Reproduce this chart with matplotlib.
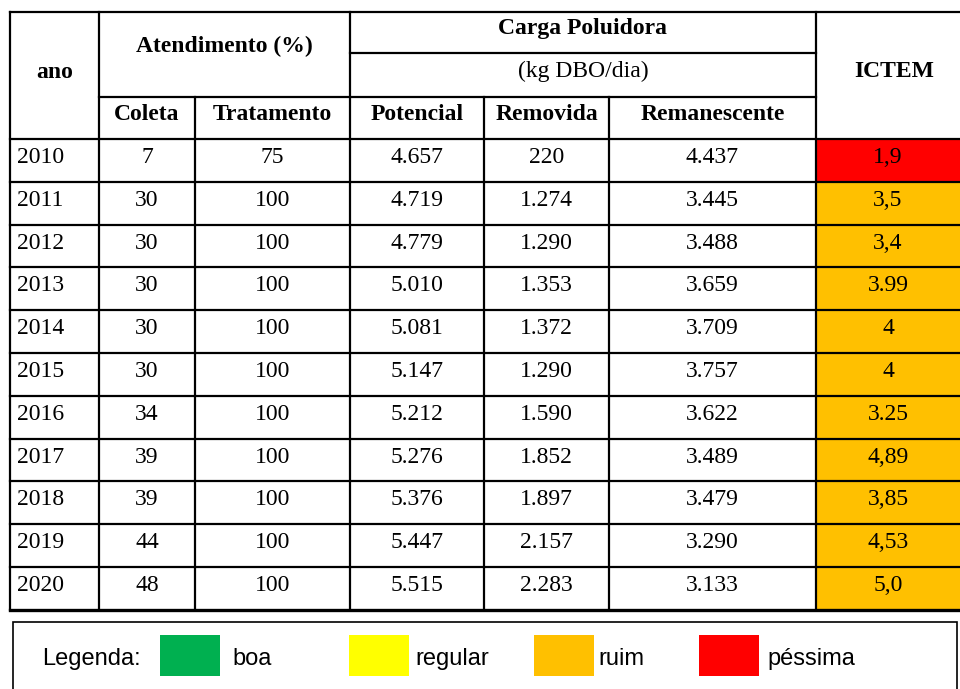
import matplotlib.pyplot as plt
from matplotlib.patches import Rectangle

# table data
anos = ["2010", "2011", "2012", "2013", "2014", "2015", "2016", "2017", "2018", "2019", "2020"]
coleta = ["7", "30", "30", "30", "30", "30", "34", "39", "39", "44", "48"]
tratamento = ["75", "100", "100", "100", "100", "100", "100", "100", "100", "100", "100"]
potencial = ["4.657", "4.719", "4.779", "5.010", "5.081", "5.147", "5.212", "5.276", "5.376", "5.447", "5.515"]
removida = ["220", "1.274", "1.290", "1.353", "1.372", "1.290", "1.590", "1.852", "1.897", "2.157", "2.283"]
remanescente = ["4.437", "3.445", "3.488", "3.659", "3.709", "3.757", "3.622", "3.489", "3.479", "3.290", "3.133"]
ictem = ["1,9", "3,5", "3,4", "3.99", "4", "4", "3.25", "4,89", "3,85", "4,53", "5,0"]
classe = ["péssima"] + ["ruim"] * 10

legend_labels = ["boa", "regular", "ruim", "péssima"]
legend_colors = ["#00B050", "#FFFF00", "#FFC000", "#FF0000"]
cores = dict(zip(legend_labels, legend_colors))

fig = plt.figure(figsize=(9.6, 6.89), dpi=100)
ax = fig.add_axes([0, 0, 1, 1])
ax.set_xlim(0, 960)
ax.set_ylim(689, 0)
ax.axis("off")

serif = "Liberation Serif"
sans = "Liberation Sans"
fs = 17
lw = 1.6

# column edges and row edges (pixels)
xs = [10, 99, 195, 350, 484, 609, 816, 960]
y_top, y_h1, y_h2, y_h3 = 12, 53, 97, 139
rh = 42.8
y_rows = [y_h3 + i * rh for i in range(len(anos) + 1)]

# ICTEM coloured cells
for i, c in enumerate(classe):
    ax.add_patch(Rectangle((xs[6], y_rows[i]), xs[7] - xs[6], rh,
                           facecolor=cores[c], edgecolor="none", zorder=1))

def hline(y, x0, x1, w=lw):
    ax.plot([x0, x1], [y, y], color="black", lw=w, solid_capstyle="projecting", zorder=3)

def vline(x, y0, y1, w=lw):
    ax.plot([x, x], [y0, y1], color="black", lw=w, solid_capstyle="projecting", zorder=3)

# header grid
hline(y_top, xs[0], xs[7])
hline(y_h1, xs[3], xs[6])
hline(y_h2, xs[1], xs[6])
for y in y_rows[:-1]:
    hline(y, xs[0], xs[7])
hline(y_rows[-1], xs[0], xs[7], w=2.4)
vline(xs[0], y_top, y_rows[-1])
vline(xs[1], y_top, y_rows[-1])
vline(xs[2], y_h2, y_rows[-1])
vline(xs[3], y_top, y_rows[-1])
vline(xs[4], y_h2, y_rows[-1])
vline(xs[5], y_h2, y_rows[-1])
vline(xs[6], y_top, y_rows[-1])

def cx(i, j=None):
    j = i if j is None else j
    return (xs[i] + xs[j + 1]) / 2

bold = dict(family=serif, fontsize=fs, fontweight="bold", ha="center", va="baseline")
ax.text(cx(0), 78, "ano", **bold)
ax.text(cx(1, 2), 52, "Atendimento (%)", **bold)
ax.text(cx(3, 5), 34, "Carga Poluidora", **bold)
ax.text(cx(3, 5), 77, "(kg DBO/dia)", family=serif, fontsize=fs, ha="center", va="baseline")
ax.text(cx(6) + 6, 77, "ICTEM", **bold)
for k, h in enumerate(["Coleta", "Tratamento", "Potencial", "Removida", "Remanescente"]):
    ax.text(cx(k + 1), 120, h, **bold)

cols = [coleta, tratamento, potencial, removida, remanescente, ictem]
for i in range(len(anos)):
    yb = y_rows[i] + 24
    ax.text(xs[0] + 7, yb, anos[i], family=serif, fontsize=fs, ha="left", va="baseline", zorder=4)
    for k, col in enumerate(cols):
        ax.text(cx(k + 1), yb, col[i], family=serif, fontsize=fs, ha="center", va="baseline", zorder=4)

# legend box
ax.add_patch(Rectangle((13, 622), 944, 80, facecolor="white", edgecolor="black", lw=1.2, zorder=2))
ax.text(42, 665, "Legenda:", family=sans, fontsize=fs, ha="left", va="baseline", zorder=4)
sw_x = [160, 349, 534, 699]
lab_x = [232, 415, 598, 767]
for sx, lx, lab, col in zip(sw_x, lab_x, legend_labels, legend_colors):
    ax.add_patch(Rectangle((sx, 635), 60, 41, facecolor=col, edgecolor="none", zorder=3))
    ax.text(lx, 665, lab, family=sans, fontsize=fs, ha="left", va="baseline", zorder=4)

fig.savefig("out.png", dpi=100)
